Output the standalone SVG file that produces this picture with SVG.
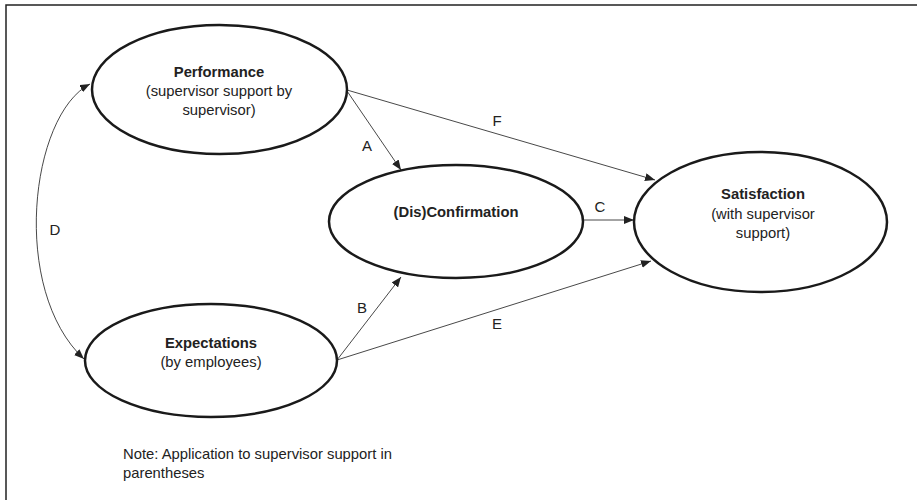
<svg xmlns="http://www.w3.org/2000/svg" width="917" height="500" viewBox="0 0 917 500">
<style>
.node{fill:#fff;stroke:#1a1a1a;stroke-width:2.5}
.t{font-family:"Liberation Sans",Arial,sans-serif;font-size:14.8px;fill:#222;text-anchor:middle}
.b{font-weight:bold}
.lbl{font-family:"Liberation Sans",Arial,sans-serif;font-size:15px;fill:#222;text-anchor:middle}
.c{fill:none;stroke:#333;stroke-width:0.9}
</style>
<defs>
<marker id="ah" viewBox="0 0 10 8" refX="10" refY="4" markerWidth="10" markerHeight="8" markerUnits="userSpaceOnUse" orient="auto-start-reverse">
<path d="M0,0 L10,4 L0,8 Z" fill="#222"/>
</marker>
</defs>
<rect width="917" height="500" fill="#fff"/>
<path d="M6,500 V5 H917" fill="none" stroke="#222" stroke-width="1.5"/>
<g id="connectors">
<path class="c" d="M347,91 L401,170" marker-end="url(#ah)"/>
<path class="c" d="M347,90 L655,180" marker-end="url(#ah)"/>
<path class="c" d="M583,220 L634,220" marker-end="url(#ah)"/>
<path class="c" d="M337,360 L401,277" marker-end="url(#ah)"/>
<path class="c" d="M337,360 L651,261" marker-end="url(#ah)"/>
<path class="c" d="M90,84 C30,115 10,290 84,359" marker-start="url(#ah)" marker-end="url(#ah)"/>
<text class="lbl" x="367" y="151">A</text>
<text class="lbl" x="497" y="126">F</text>
<text class="lbl" x="600" y="212">C</text>
<text class="lbl" x="55" y="235">D</text>
<text class="lbl" x="362" y="313">B</text>
<text class="lbl" x="497" y="329">E</text>
</g>
<g id="performance">
<ellipse class="node" cx="219.5" cy="89.5" rx="127.5" ry="64.5"/>
<text class="t b" x="219" y="77">Performance</text>
<text class="t" x="219" y="96">(supervisor support by</text>
<text class="t" x="219" y="115">supervisor)</text>
</g>
<g id="disconfirmation">
<ellipse class="node" cx="456" cy="221.5" rx="127" ry="56.5"/>
<text class="t b" x="456" y="217">(Dis)Confirmation</text>
</g>
<g id="satisfaction">
<ellipse class="node" cx="760.5" cy="222" rx="126.5" ry="70"/>
<text class="t b" x="763" y="199">Satisfaction</text>
<text class="t" x="763" y="219">(with supervisor</text>
<text class="t" x="763" y="238">support)</text>
</g>
<g id="expectations">
<ellipse class="node" cx="211" cy="360.5" rx="126" ry="56.5"/>
<text class="t b" x="211" y="348">Expectations</text>
<text class="t" x="211" y="367">(by employees)</text>
</g>
<g id="note">
<text class="t" x="123" y="459" style="text-anchor:start">Note: Application to supervisor support in</text>
<text class="t" x="123" y="478" style="text-anchor:start">parentheses</text>
</g>
</svg>
